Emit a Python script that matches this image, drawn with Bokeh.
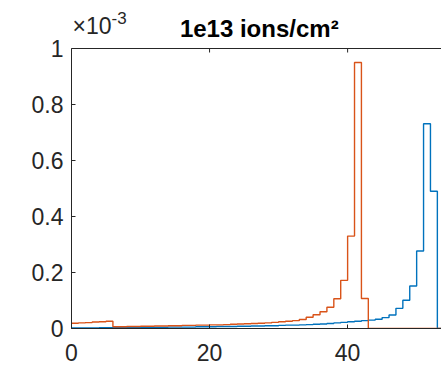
import math
from bokeh.plotting import figure
from bokeh.models import Range1d, FixedTicker, Span
from bokeh.core.properties import value
from bokeh.embed import file_html
from bokeh.resources import INLINE

# Histogram bins (left edges, unit width); values are in units of 1e-3
orange_bins = list(range(0, 43))
orange_vals = [0.019, 0.020, 0.021, 0.023, 0.024, 0.026,
               0.006, 0.006, 0.007, 0.007, 0.008, 0.008, 0.009, 0.009,
               0.010, 0.010, 0.011, 0.011, 0.012, 0.012, 0.013, 0.013,
               0.014, 0.015, 0.016, 0.017, 0.018, 0.019, 0.020, 0.022,
               0.024, 0.026, 0.028, 0.032, 0.040, 0.049, 0.060, 0.076,
               0.106, 0.172, 0.330, 0.950, 0.107]

blue_bins = list(range(0, 53))
blue_vals = [0.002, 0.002, 0.002, 0.002, 0.003, 0.003, 0.003, 0.003,
             0.003, 0.004, 0.004, 0.004, 0.004, 0.004, 0.005, 0.005,
             0.005, 0.005, 0.006, 0.006, 0.006, 0.007, 0.007, 0.007,
             0.008, 0.008, 0.009, 0.009, 0.010, 0.010, 0.011, 0.012,
             0.012, 0.013, 0.014, 0.015, 0.016, 0.018, 0.020, 0.022,
             0.024, 0.026, 0.028, 0.030, 0.033, 0.039, 0.048, 0.072,
             0.101, 0.152, 0.277, 0.731, 0.490]

x_ticks = [0, 20, 40]
y_ticks = [0, 0.2, 0.4, 0.6, 0.8, 1.0]
y_tick_labels = ["0", "0.2", "0.4", "0.6", "0.8", "1"]
title_text = "1e13 ions/cm\u00b2"
exp_base = "\u00d710"
exp_power = "-3"
x_max = 53.6
x_end_data = 60
y_max = 1.0

FONT = "Liberation Sans"
AX = "#262626"

W, H = 441, 366
LEFT, BOTTOM, TOP_PAD = 71, 38, 48
frame_h = H - BOTTOM
# the frame also covers the title strip above the axes box
y_top = y_max * frame_h / (frame_h - TOP_PAD)

p = figure(width=W, height=H, output_backend="svg", toolbar_location=None,
           x_range=Range1d(0, x_max), y_range=Range1d(0, y_top),
           min_border_left=LEFT, min_border_right=0, min_border_top=0,
           min_border_bottom=BOTTOM)
p.outline_line_color = None
p.xgrid.visible = False
p.ygrid.visible = False
p.background_fill_color = "white"
p.border_fill_color = "white"

def stairs(bins, vals):
    xs = list(bins) + [bins[-1] + 1, x_end_data]
    ys = list(vals) + [0.0, 0.0]
    return xs, ys

bx, by = stairs(blue_bins, blue_vals)
ox, oy = stairs(orange_bins, orange_vals)
p.step(bx, by, mode="after", line_color="#0072BD", line_width=1.4)
p.step(ox, oy, mode="after", line_color="#D95319", line_width=1.4)

for ax in p.xaxis:
    ax.ticker = FixedTicker(ticks=x_ticks)
    ax.major_label_standoff = 15
    ax.major_label_text_line_height = 0.8
for ax in p.yaxis:
    ax.ticker = FixedTicker(ticks=y_ticks)
    ax.major_label_overrides = {t: l for t, l in zip(y_ticks, y_tick_labels)}
    ax.bounds = (0, y_max)
    ax.major_label_standoff = 8

for ax in list(p.xaxis) + list(p.yaxis):
    ax.axis_line_color = AX
    ax.major_tick_line_color = AX
    ax.major_tick_in = 4
    ax.major_tick_out = 0
    ax.minor_tick_line_color = None
    ax.major_label_text_font = FONT
    ax.major_label_text_font_size = "23px"
    ax.major_label_text_color = AX

# top edge of the axes box with its inward ticks
p.add_layout(Span(location=y_max, dimension="width", line_color=AX, line_width=1))
p.ray(x=x_ticks, y=[y_max] * len(x_ticks), length=4, length_units="screen",
      angle=-math.pi / 2, line_color=AX, line_width=1)

# title and exponent label
p.text(x=[x_max / 2 + 0.4], y=[y_max], text=[title_text], y_offset=-20,
       text_align="center", text_baseline="alphabetic",
       text_font=value(FONT), text_font_style="bold",
       text_font_size="24px", text_color="black")
p.text(x=[0], y=[y_max], text=[exp_base], x_offset=1, y_offset=-23,
       text_align="left", text_baseline="alphabetic",
       text_font=value(FONT), text_font_size="23px", text_color=AX)
p.text(x=[0], y=[y_max], text=[exp_power], x_offset=40, y_offset=-31,
       text_align="left", text_baseline="alphabetic",
       text_font=value(FONT), text_font_size="17px", text_color=AX)

open("out.html", "w").write(file_html(p, INLINE))
